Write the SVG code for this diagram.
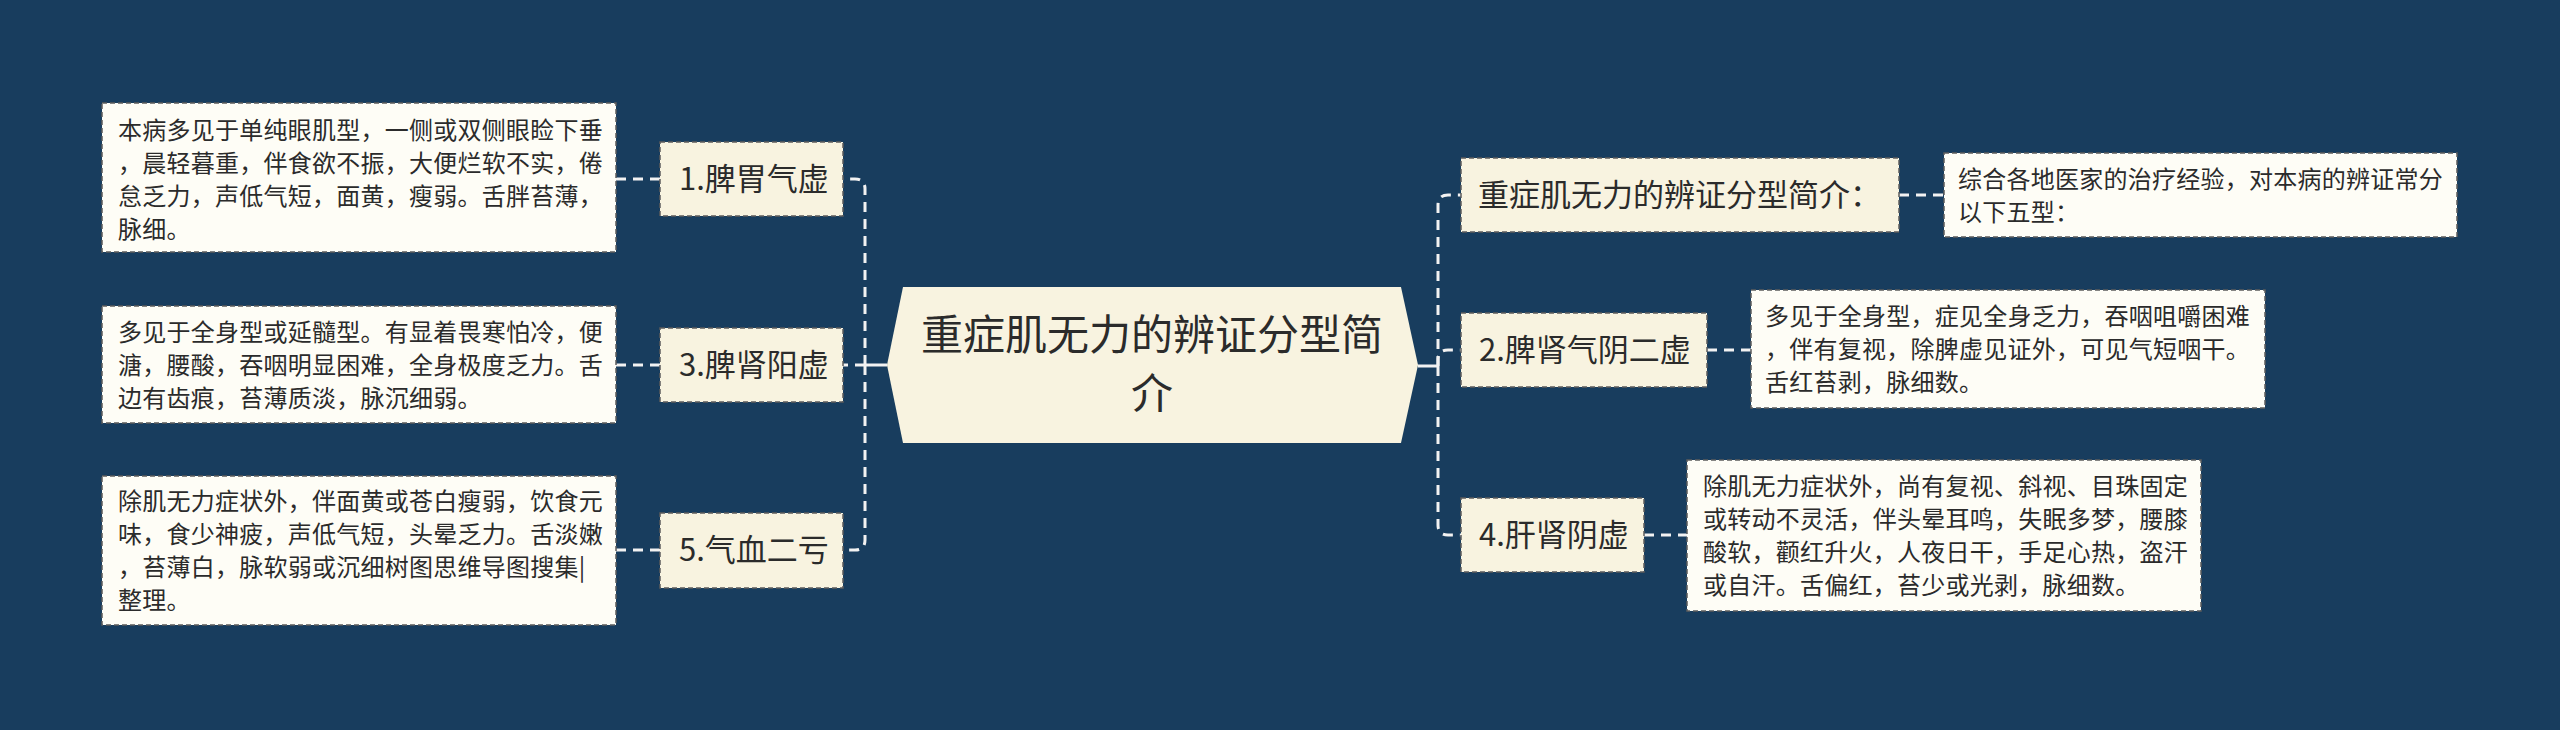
<svg xmlns="http://www.w3.org/2000/svg" width="2560" height="730" viewBox="0 0 2560 730">
<style>
.bg{fill:#183D5E}
.topic{fill:#F8F3E0;stroke:#5c5c5c;stroke-width:1.5;stroke-dasharray:5 3}
.desc{fill:#FEFDF6;stroke:#5c5c5c;stroke-width:1.5;stroke-dasharray:5 3}
.center{fill:#F8F3E0}
.t{font-family:"Noto Sans CJK SC","Liberation Sans",sans-serif;fill:#2b2b2b}
.tt{font-size:31px}
.dt{font-size:24px;letter-spacing:0.25px}
.ct{font-size:42px;text-anchor:middle}
.dash{fill:none;stroke:#F2F2F2;stroke-width:3;stroke-dasharray:10 7}
.solid{fill:none;stroke:#F2F2F2;stroke-width:3}
</style>
<rect class="bg" x="0" y="0" width="2560" height="730"/>

<g id="connectors">
  <path class="solid" d="M887 365 H865"/>
  <path class="solid" d="M1418 366 H1438"/>
  <path class="dash" d="M865 365 V189 Q865 179 855 179 H843"/>
  <path class="dash" d="M865 365 H843"/>
  <path class="dash" d="M865 365 V540 Q865 550 855 550 H843"/>
  <path class="dash" d="M1438 366 V205 Q1438 195 1448 195 H1461"/>
  <path class="dash" d="M1438 366 V360 Q1438 350 1448 350 H1461"/>
  <path class="dash" d="M1438 366 V525 Q1438 535 1448 535 H1461"/>
  <path class="dash" d="M660 179 H616"/>
  <path class="dash" d="M660 365 H616"/>
  <path class="dash" d="M660 550 H616"/>
  <path class="dash" d="M1899 195 H1944"/>
  <path class="dash" d="M1707 350 H1751"/>
  <path class="dash" d="M1644 535 H1687"/>
</g>

<g id="center">
  <polygon class="center" points="887,365 903,287 1401,287 1418,365 1401,443 903,443"/>
  <text class="t ct" x="1152" y="350">重症肌无力的辨证分型简</text>
  <text class="t ct" x="1152" y="409">介</text>
</g>

<g id="n1">
  <rect class="topic" x="660" y="142" width="183" height="74"/>
  <text class="t tt" x="679" y="190">1.脾胃气虚</text>
</g>
<g id="n1d">
  <rect class="desc" x="102" y="103" width="514" height="149"/>
  <text class="t dt" x="118" y="139">本病多见于单纯眼肌型，一侧或双侧眼睑下垂</text>
  <text class="t dt" x="118" y="172">，晨轻暮重，伴食欲不振，大便烂软不实，倦</text>
  <text class="t dt" x="118" y="205">怠乏力，声低气短，面黄，瘦弱。舌胖苔薄，</text>
  <text class="t dt" x="118" y="238">脉细。</text>
</g>

<g id="n3">
  <rect class="topic" x="660" y="328" width="183" height="74"/>
  <text class="t tt" x="679" y="376">3.脾肾阳虚</text>
</g>
<g id="n3d">
  <rect class="desc" x="102" y="306" width="514" height="117"/>
  <text class="t dt" x="118" y="341">多见于全身型或延髓型。有显着畏寒怕冷，便</text>
  <text class="t dt" x="118" y="374">溏，腰酸，吞咽明显困难，全身极度乏力。舌</text>
  <text class="t dt" x="118" y="407">边有齿痕，苔薄质淡，脉沉细弱。</text>
</g>

<g id="n5">
  <rect class="topic" x="660" y="513" width="183" height="75"/>
  <text class="t tt" x="679" y="561">5.气血二亏</text>
</g>
<g id="n5d">
  <rect class="desc" x="102" y="476" width="514" height="149"/>
  <text class="t dt" x="118" y="510">除肌无力症状外，伴面黄或苍白瘦弱，饮食元</text>
  <text class="t dt" x="118" y="543">味，食少神疲，声低气短，头晕乏力。舌淡嫩</text>
  <text class="t dt" x="118" y="576">，苔薄白，脉软弱或沉细树图思维导图搜集|</text>
  <text class="t dt" x="118" y="609">整理。</text>
</g>

<g id="n0">
  <rect class="topic" x="1461" y="158" width="438" height="74"/>
  <text class="t tt" x="1478" y="206">重症肌无力的辨证分型简介：</text>
</g>
<g id="n0d">
  <rect class="desc" x="1944" y="153" width="513" height="84"/>
  <text class="t dt" x="1958" y="188">综合各地医家的治疗经验，对本病的辨证常分</text>
  <text class="t dt" x="1958" y="221">以下五型：</text>
</g>

<g id="n2">
  <rect class="topic" x="1461" y="313" width="246" height="74"/>
  <text class="t tt" x="1479" y="361">2.脾肾气阴二虚</text>
</g>
<g id="n2d">
  <rect class="desc" x="1751" y="290" width="514" height="118"/>
  <text class="t dt" x="1765" y="325">多见于全身型，症见全身乏力，吞咽咀嚼困难</text>
  <text class="t dt" x="1765" y="358">，伴有复视，除脾虚见证外，可见气短咽干。</text>
  <text class="t dt" x="1765" y="391">舌红苔剥，脉细数。</text>
</g>

<g id="n4">
  <rect class="topic" x="1461" y="498" width="183" height="74"/>
  <text class="t tt" x="1479" y="546">4.肝肾阴虚</text>
</g>
<g id="n4d">
  <rect class="desc" x="1687" y="460" width="514" height="151"/>
  <text class="t dt" x="1703" y="495">除肌无力症状外，尚有复视、斜视、目珠固定</text>
  <text class="t dt" x="1703" y="528">或转动不灵活，伴头晕耳鸣，失眠多梦，腰膝</text>
  <text class="t dt" x="1703" y="561">酸软，颧红升火，人夜日干，手足心热，盗汗</text>
  <text class="t dt" x="1703" y="594">或自汗。舌偏红，苔少或光剥，脉细数。</text>
</g>
</svg>
